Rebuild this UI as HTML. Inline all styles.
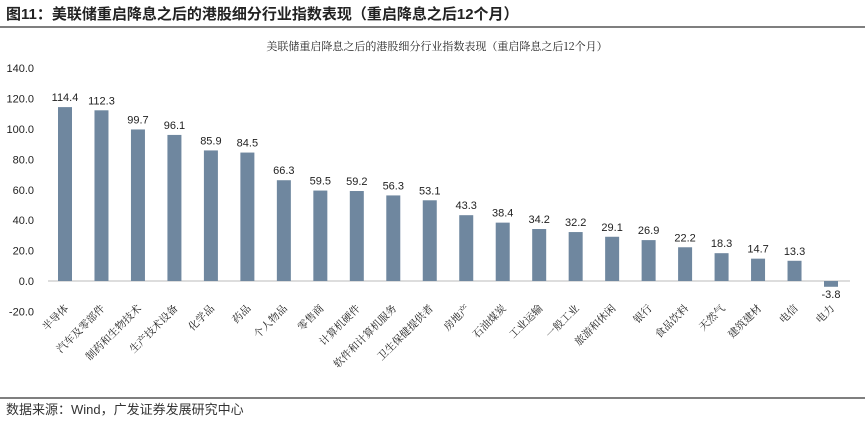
<!DOCTYPE html>
<html><head><meta charset="utf-8"><style>
body{margin:0;background:#fff;width:865px;height:421px;overflow:hidden;font-family:"Liberation Sans","Noto Serif CJK SC","Noto Sans CJK SC",sans-serif}
</style></head><body>
<svg width="865" height="421" xmlns="http://www.w3.org/2000/svg">
<text x="6" y="19" font-size="15" font-weight="bold" fill="#222" font-family="Liberation Sans,Noto Sans CJK SC,sans-serif">图11：美联储重启降息之后的港股细分行业指数表现（重启降息之后12个月）</text>
<line x1="0" y1="27" x2="865" y2="27" stroke="#555" stroke-width="1.5"/>
<text x="437" y="50" font-size="11" text-anchor="middle" fill="#222" font-family="Noto Serif CJK SC,serif">美联储重启降息之后的港股细分行业指数表现（重启降息之后12个月）</text>
<g id="plot"></g>
<line x1="0" y1="398" x2="865" y2="398" stroke="#555" stroke-width="1.5"/>
<text x="6" y="414" font-size="13" fill="#333" font-family="Liberation Sans,Noto Sans CJK SC,sans-serif">数据来源：Wind，广发证券发展研究中心</text>
</svg>
<script>
const categories=["半导体","汽车及零部件","制药和生物技术","生产技术设备","化学品","药品","个人物品","零售商","计算机硬件","软件和计算机服务","卫生保健提供者","房地产","石油煤炭","工业运输","一般工业","旅游和休闲","银行","食品饮料","天然气","建筑建材","电信","电力"];
const values=[114.4,112.3,99.7,96.1,85.9,84.5,66.3,59.5,59.2,56.3,53.1,43.3,38.4,34.2,32.2,29.1,26.9,22.2,18.3,14.7,13.3,-3.8];
const ticks=[140,120,100,80,60,40,20,0,-20];
const NS="http://www.w3.org/2000/svg";
const g=document.getElementById('plot');
const y=v=>281-(v)*30.4/20;
const x=i=>65+i*(831-65)/(categories.length-1);
function el(t,a){const e=document.createElementNS(NS,t);for(const k in a)e.setAttribute(k,a[k]);g.appendChild(e);return e;}
ticks.forEach(t=>{const e=el('text',{x:34,y:y(t)+4,'font-size':11,'text-anchor':'end',fill:'#222'});e.textContent=t.toFixed(1);

});
const zl=el('line',{x1:48,x2:850,y1:y(0),y2:y(0),stroke:'#bbb','stroke-width':1});


categories.forEach((c,i)=>{const v=values[i];const cx=x(i);
const r=el('rect',{x:cx-7,width:14,y:Math.min(y(v),y(0)),height:Math.abs(y(v)-y(0)),fill:'#6f879f'});


const lt=el('text',{x:cx,y:v>=0?y(v)-6:y(v)+11,'font-size':11,'text-anchor':'middle',fill:'#222'});lt.textContent=v.toFixed(1);


const ax=cx+4, ay=309;
const ct=el('text',{x:ax,y:ay,'font-size':10.5,'text-anchor':'end',fill:'#222','font-family':'Noto Serif CJK SC,serif',transform:`rotate(-45 ${ax} ${ay})`});ct.textContent=c;


});
</script>
</body></html>
